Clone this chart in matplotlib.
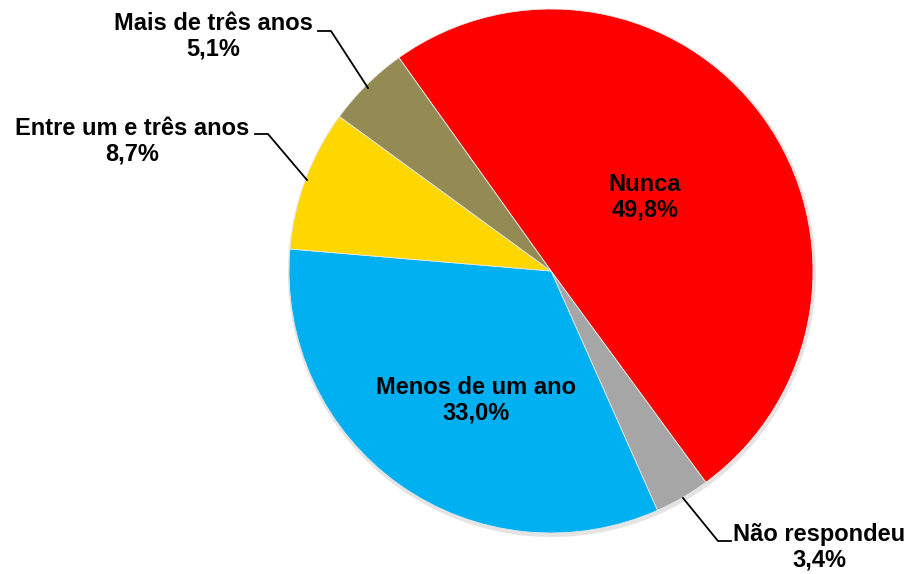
import matplotlib
matplotlib.use("Agg")
import matplotlib.pyplot as plt

plt.rcParams["font.family"] = ["Liberation Sans", "DejaVu Sans"]

# Slice data (clockwise order, starting at the top-left)
labels = ["Nunca", "Não respondeu", "Menos de um ano",
          "Entre um e três anos", "Mais de três anos"]
values = [49.8, 3.4, 33.0, 8.7, 5.1]
colors = ["#FF0000", "#A6A6A6", "#00B0F0", "#FFD700", "#948A54"]

W, H = 911, 574
fig = plt.figure(figsize=(W / 100, H / 100), dpi=100)
ax = fig.add_axes([0, 0, 1, 1])
ax.set_xlim(0, W)
ax.set_ylim(0, H)
ax.set_aspect("equal")
ax.axis("off")

cx, cy, r = 551, H - 271, 262

# soft shadow behind the pie
ax.pie(values, colors=["#e4e4e4"] * len(values), radius=r + 2,
       center=(cx + 1, cy - 2), startangle=125.5, counterclock=False,
       wedgeprops=dict(linewidth=0))
wedges, _ = ax.pie(values, colors=colors, radius=r, center=(cx, cy),
                   startangle=125.5, counterclock=False,
                   wedgeprops=dict(linewidth=0.6, edgecolor="#e8e8e8"))
ax.set_xlim(0, W)
ax.set_ylim(0, H)

def fmt(v):
    return f"{v:.1f}%".replace(".", ",")

txt = dict(fontsize=17, fontweight="bold", ha="center", va="center",
           linespacing=1.15, color="black")

# inside labels
ax.text(645, H - 197, f"{labels[0]}\n{fmt(values[0])}", **txt)
ax.text(476, H - 400, f"{labels[2]}\n{fmt(values[2])}", **txt)

# outside labels with leader lines
ax.text(213, H - 36, f"{labels[4]}\n{fmt(values[4])}", **txt)
ax.plot([318, 331, 368], [H - 31, H - 31, H - 88], color="black", lw=1.3)

ax.text(132, H - 141, f"{labels[3]}\n{fmt(values[3])}", **txt)
ax.plot([255, 268, 307], [H - 134, H - 134, H - 180], color="black", lw=1.3)

ax.text(819, H - 547, f"{labels[1]}\n{fmt(values[1])}", **txt)
ax.plot([683, 718, 731], [H - 498, H - 541, H - 541], color="black", lw=1.3)

fig.savefig("out.png", dpi=100)
